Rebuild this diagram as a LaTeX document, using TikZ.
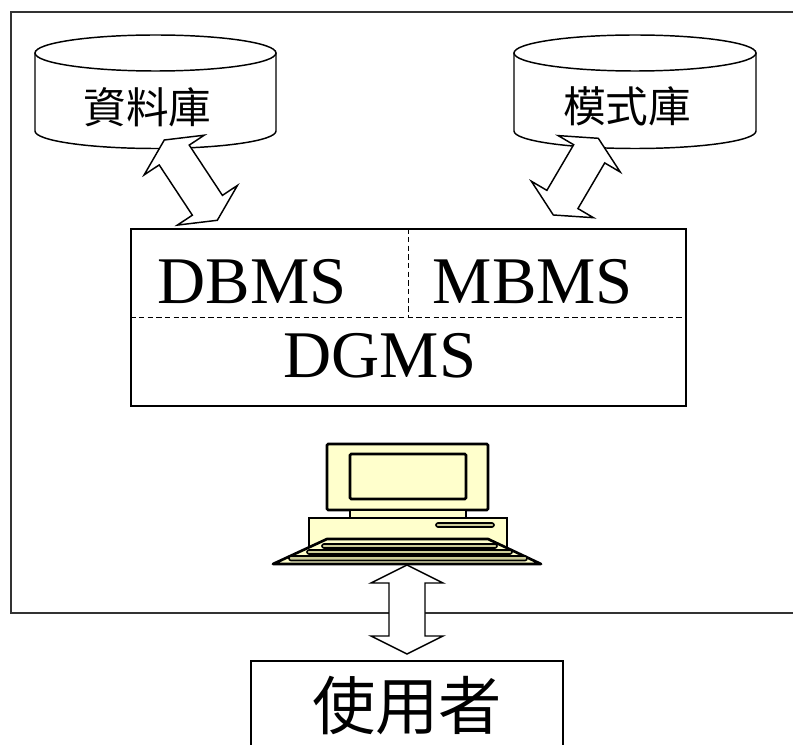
\documentclass[tikz,border=0pt]{standalone}
\usepackage{fontspec}
\setmainfont{Liberation Serif}
\newfontfamily\cjk{Noto Sans CJK TC}
\usetikzlibrary{calc}

\definecolor{pcyellow}{RGB}{255,255,204}
\definecolor{pckhaki}{RGB}{204,204,153}

% hollow double-headed arrow between two named points
\newcommand{\dblarrow}[2]{%
  \path ($(#1)!13.5pt!(#2)$) coordinate (h1)
        ($(#2)!13.5pt!(#1)$) coordinate (h2);
  \draw[bigarrow] (#1)
    -- ($(h1)!27pt!-90:(#2)$) -- ($(h1)!13.5pt!-90:(#2)$)
    -- ($(h2)!13.5pt!90:(#1)$) -- ($(h2)!27pt!90:(#1)$)
    -- (#2)
    -- ($(h2)!27pt!-90:(#1)$) -- ($(h2)!13.5pt!-90:(#1)$)
    -- ($(h1)!13.5pt!90:(#2)$) -- ($(h1)!27pt!90:(#2)$)
    -- cycle;
}

\begin{document}
\begin{tikzpicture}[
    x=0.75pt, y=-0.75pt,
    line width=1.1pt,
    can/.style={draw=black, fill=white},
    box/.style={draw=black, inner sep=0pt},
    bigarrow/.style={draw=black, fill=white, line join=miter},
    pcpart/.style={draw=black, fill=pcyellow, line width=2pt},
    keyrow/.style={draw=black, fill=pckhaki, line width=1.2pt, rounded corners=1.5pt},
    dbname/.style={font=\cjk\fontsize{32}{36}\selectfont},
    layer/.style={anchor=base, inner sep=0pt, font=\fontsize{50}{60}\selectfont}
]
\useasboundingbox (0,0) rectangle (793,745);

% outer frame
\draw[black!80] (11,12) rectangle (805,613);

% data base
\draw[can] (35,53) -- (35,131) arc[start angle=180, end angle=0, x radius=120.5, y radius=17.5] -- (276,53);
\draw[can] (155.5,53) ellipse[x radius=120.5, y radius=18];
\node[dbname] (db) at (147.5,107) {資料庫};

% model base
\draw[can] (514,53) -- (514,131) arc[start angle=180, end angle=0, x radius=121, y radius=17.5] -- (756,53);
\draw[can] (635,53) ellipse[x radius=121, y radius=18];
\node[dbname] (mb) at (627,106) {模式庫};

% DSS software
\node[box, minimum width=416.25pt, minimum height=132.75pt] (sys) at (408.5,317.5) {};
\draw[dash pattern=on 4pt off 2.5pt] (sys.west) -- (sys.east);
\draw[dash pattern=on 4pt off 2.5pt] (sys.north) -- (sys.center);
\node[layer] (dbms) at (252,304) {DBMS};
\node[layer] (mbms) at (533,304) {MBMS};
\node[layer] (dgms) at (380,378) {DGMS};

% links to the bases
\coordinate (dbtip) at (164.3,140);
\coordinate (dbsys) at (217.3,220.3);
\coordinate (mbtip) at (598.3,138.3);
\coordinate (mbsys) at (553.3,215);
\dblarrow{dbtip}{dbsys}
\dblarrow{mbtip}{mbsys}

% terminal
\draw[pcpart, rounded corners=1pt] (327,444) rectangle (488,510);
\draw[pcpart, rounded corners=1pt] (350,454) rectangle (466,499);
\draw[pcpart] (350,510) rectangle (466,518);
\draw[pcpart] (309,518) rectangle (507,547);
\draw[keyrow] (436,523) rectangle (494,527);
\draw[pcpart, line join=round] (327,539) -- (488,539) -- (541,564) -- (273,564) -- cycle;
\draw[keyrow] (322,544) rectangle (497,548);
\draw[keyrow] (307,550) rectangle (512,554);
\draw[keyrow] (289,556) rectangle (527,560.5);

% user
\node[box, minimum width=234pt, minimum height=67.5pt, font=\cjk\fontsize{47.5}{52}\selectfont] (user) at (407,706) {使用者};
\coordinate (pcin) at (407,565);
\coordinate (userin) at (407,654);
\dblarrow{pcin}{userin}

\end{tikzpicture}
\end{document}
